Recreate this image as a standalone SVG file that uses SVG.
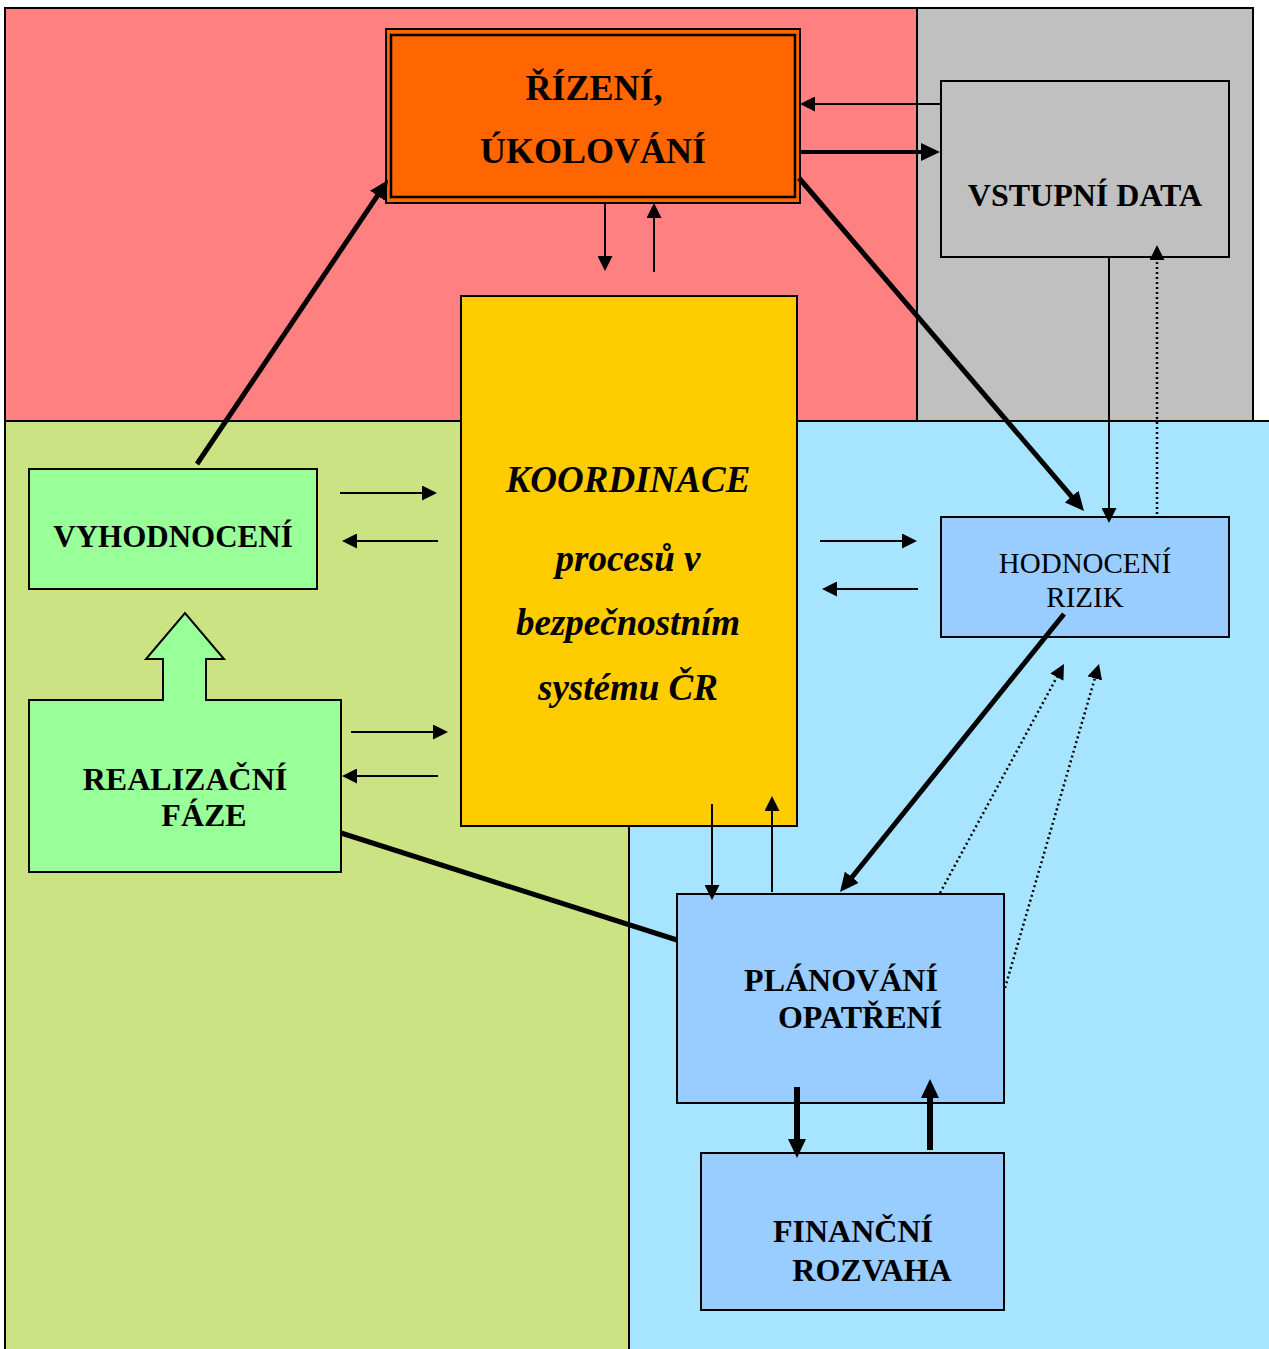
<svg xmlns="http://www.w3.org/2000/svg" width="1269" height="1349" viewBox="0 0 1269 1349">
<style>
.reg{stroke:#000;stroke-width:2}
.box{stroke:#000;stroke-width:2}
.t{font-family:"Liberation Serif","Times New Roman",serif;fill:#000;text-anchor:middle}
.b{font-weight:bold;font-size:32px}
.bi{font-weight:bold;font-style:italic;font-size:37px}
.r{font-size:29px}
.thin{stroke:#000;stroke-width:2;fill:none;marker-end:url(#ah)}
.thick{stroke:#000;stroke-width:5;fill:none;marker-end:url(#ahb)}
.dot{stroke:#000;stroke-width:2.5;stroke-dasharray:2 3;fill:none;marker-end:url(#ah)}
</style>
<defs>
<marker id="ah" markerUnits="userSpaceOnUse" markerWidth="15" markerHeight="15" refX="1" refY="7.5" orient="auto" viewBox="0 0 15 15">
<path d="M0,0 L15,7.5 L0,15 z" fill="#000"/>
</marker>
<marker id="ahb" markerUnits="userSpaceOnUse" markerWidth="19" markerHeight="18" refX="1" refY="9" orient="auto" viewBox="0 0 19 18">
<path d="M0,0 L19,9 L0,18 z" fill="#000"/>
</marker>
</defs>
<rect x="0" y="0" width="1269" height="1349" fill="#fff"/>
<g id="regions">
<rect class="reg" x="5" y="8" width="912" height="413" fill="#FF8080"/>
<rect class="reg" x="917" y="8" width="336" height="413" fill="#C0C0C0"/>
<rect class="reg" x="5" y="421" width="624" height="940" fill="#CCE384"/>
<rect class="reg" x="629" y="421" width="650" height="940" fill="#A6E4FF"/>
</g>
<g id="rizeni">
<rect x="386" y="29" width="414" height="174" fill="#FF6600" stroke="#000" stroke-width="2"/>
<rect x="391" y="35" width="404" height="162" fill="none" stroke="#000" stroke-width="2.5"/>
<text class="t b" x="594" y="100" style="font-size:36px">ŘÍZENÍ,</text>
<text class="t b" x="593" y="163" style="font-size:36px">ÚKOLOVÁNÍ</text>
</g>
<g id="vstupni">
<rect class="box" x="941" y="81" width="288" height="176" fill="#C0C0C0"/>
<text class="t b" x="1085" y="206">VSTUPNÍ DATA</text>
</g>
<g id="koordinace">
<rect class="box" x="461" y="296" width="336" height="530" fill="#FFCC00"/>
<text class="t bi" x="628" y="492">KOORDINACE</text>
<text class="t bi" x="628" y="571">procesů v</text>
<text class="t bi" x="628" y="635">bezpečnostním</text>
<text class="t bi" x="628" y="700">systému ČR</text>
</g>
<g id="vyhodnoceni">
<rect class="box" x="29" y="469" width="288" height="120" fill="#99FF99"/>
<text class="t b" x="173" y="547" style="font-size:31px">VYHODNOCENÍ</text>
</g>
<g id="realizacni">
<path class="box" d="M29,700 L163,700 L163,659 L146,659 L185,613 L224,659 L206,659 L206,700 L341,700 L341,872 L29,872 Z" fill="#99FF99"/>
<text class="t b" x="185" y="790">REALIZAČNÍ</text>
<text class="t b" x="204" y="826">FÁZE</text>
</g>
<g id="hodnoceni">
<rect class="box" x="941" y="517" width="288" height="120" fill="#99CCFF"/>
<text class="t r" x="1085" y="573">HODNOCENÍ</text>
<text class="t r" x="1085" y="607">RIZIK</text>
</g>
<g id="planovani">
<rect class="box" x="677" y="894" width="327" height="209" fill="#99CCFF"/>
<text class="t b" x="841" y="991">PLÁNOVÁNÍ</text>
<text class="t b" x="860" y="1028">OPATŘENÍ</text>
</g>
<g id="financni">
<rect class="box" x="701" y="1153" width="303" height="157" fill="#99CCFF"/>
<text class="t b" x="853" y="1242">FINANČNÍ</text>
<text class="t b" x="872" y="1281">ROZVAHA</text>
</g>
<g id="connectors">
<line class="thin" x1="605" y1="203" x2="605" y2="257"/>
<line class="thin" x1="654" y1="272" x2="654" y2="217"/>
<line class="thin" x1="941" y1="104" x2="814" y2="104"/>
<line class="thin" x1="1109" y1="257" x2="1109" y2="509"/>
<line class="thin" x1="340" y1="493" x2="423" y2="493"/>
<line class="thin" x1="438" y1="541" x2="356" y2="541"/>
<line class="thin" x1="351" y1="732" x2="434" y2="732"/>
<line class="thin" x1="438" y1="776" x2="356" y2="776"/>
<line class="thin" x1="820" y1="541" x2="903" y2="541"/>
<line class="thin" x1="918" y1="589" x2="836" y2="589"/>
<line class="thin" x1="712" y1="804" x2="712" y2="886"/>
<line class="thin" x1="772" y1="892" x2="772" y2="810"/>
<line class="dot" x1="1157" y1="514" x2="1157" y2="259"/>
<line class="dot" x1="940" y1="893" x2="1057.3" y2="676.3"/>
<line class="dot" x1="1005" y1="988" x2="1095.1" y2="677.4"/>
<line class="thick" x1="800" y1="152" x2="922" y2="152" style="stroke-width:4"/>
<line class="thick" x1="197" y1="464" x2="378" y2="194.9"/>
<line class="thick" x1="799" y1="178" x2="1072.3" y2="497.3"/>
<line class="thick" x1="1064" y1="614" x2="851.3" y2="878"/>
<line class="thick" x1="797" y1="1087" x2="797" y2="1140" style="stroke-width:6"/>
<line class="thick" x1="930" y1="1150" x2="930" y2="1097" style="stroke-width:6"/>
<line x1="341" y1="833" x2="677" y2="940" stroke="#000" stroke-width="5"/>
</g>
</svg>
